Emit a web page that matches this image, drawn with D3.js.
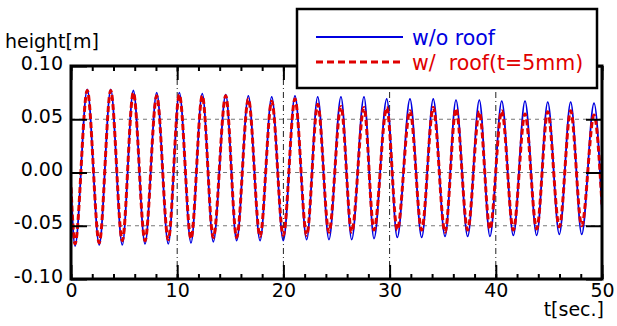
<!DOCTYPE html>
<html>
<head>
<meta charset="utf-8">
<script src="https://cdn.jsdelivr.net/npm/d3@7"></script>
<style>
  body { margin: 0; background: #fff; }
  svg { display: block; }
  text { font-family: "DejaVu Sans", Verdana, sans-serif; }
</style>
</head>
<body>
<svg id="chart" width="617" height="326"></svg>
<script>
// times of the troughs and crests [s]
const troughT = [0.38, 2.66, 4.83, 6.97, 9.16, 11.30, 13.40, 15.60, 17.80, 19.99, 22.19, 24.29,
  26.43, 28.53, 30.72, 33.02, 35.22, 37.35, 39.45, 41.65, 43.85, 45.98, 48.09];
const peakT = [1.53, 3.74, 5.87, 8.07, 10.20, 12.36, 14.57, 16.70, 18.90, 21.09, 23.23, 25.42,
  27.59, 29.73, 31.92, 34.11, 36.25, 38.45, 40.56, 42.75, 44.89, 47.05, 49.25];

// w/o roof [m]
const noRoofPeak = [0.078, 0.078, 0.077, 0.075, 0.075, 0.074, 0.073, 0.072, 0.071, 0.072, 0.071, 0.071,
  0.071, 0.069, 0.069, 0.069, 0.068, 0.068, 0.067, 0.067, 0.066, 0.066, 0.065];
const noRoofTrough = [-0.069, -0.068, -0.068, -0.067, -0.067, -0.066, -0.065, -0.064, -0.064, -0.064, -0.063, -0.063,
  -0.063, -0.062, -0.061, -0.061, -0.060, -0.060, -0.060, -0.059, -0.059, -0.058, -0.058];
const noRoofEnds = [-0.012, -0.037];

// w/ roof (t=5mm) [m]
const roofPeak = [0.077, 0.077, 0.075, 0.072, 0.073, 0.072, 0.072, 0.069, 0.067, 0.069, 0.064, 0.062,
  0.061, 0.061, 0.058, 0.061, 0.060, 0.057, 0.058, 0.055, 0.057, 0.058, 0.054];
const roofTrough = [-0.067, -0.066, -0.064, -0.064, -0.063, -0.062, -0.061, -0.061, -0.060, -0.059, -0.059, -0.056,
  -0.056, -0.054, -0.054, -0.054, -0.056, -0.054, -0.053, -0.054, -0.053, -0.051, -0.050];
const roofEnds = [-0.014, -0.030];

const xTicks = [0, 10, 20, 30, 40, 50];
const xMinor = d3.range(0, 51, 2);
const yTicks = [-0.10, -0.05, 0.00, 0.05, 0.10];
const yGrid = [-0.05, 0.00, 0.05];
const xGrid = [10, 20, 30, 40];
const legendNames = ["w/o roof", "w/  roof(t=5mm)"];

const blue = "#0000e0", red = "#e00000";

function buildSeries(peaks, troughs, ends) {
  const pts = [[0, ends[0]]];
  troughT.forEach((t, i) => {
    pts.push([t, troughs[i]]);
    pts.push([peakT[i], peaks[i]]);
  });
  pts.push([50, ends[1]]);
  return pts;
}

const svg = d3.select("#chart");
const pL = 71, pR = 602, pT = 66, pB = 279;

const x = d3.scaleLinear().domain([0, 50]).range([pL, pR]);
const y = d3.scaleLinear().domain([-0.1, 0.1]).range([pB, pT]);
const fmt = d3.formatLocale({decimal: ".", thousands: ",", grouping: [3], currency: ["", ""], minus: "-"}).format(".2f");

svg.append("clipPath").attr("id", "plot")
  .append("rect").attr("x", pL).attr("y", pT).attr("width", pR - pL).attr("height", pB - pT);

// grid
svg.append("g").selectAll("line").data(yGrid).join("line")
  .attr("x1", pL).attr("x2", pR)
  .attr("y1", d => y(d)).attr("y2", d => y(d))
  .attr("stroke", "#777").attr("stroke-width", 1).attr("stroke-dasharray", "4,4");
svg.append("g").selectAll("line").data(xGrid).join("line")
  .attr("x1", d => x(d)).attr("x2", d => x(d))
  .attr("y1", pT).attr("y2", pB)
  .attr("stroke", "#222").attr("stroke-width", 1).attr("stroke-dasharray", "6,3,1,3");

// curves
const line = d3.line().x(d => x(d[0])).y(d => y(d[1])).curve(d3.curveMonotoneX);
const plot = svg.append("g").attr("clip-path", "url(#plot)");
plot.append("path").datum(buildSeries(noRoofPeak, noRoofTrough, noRoofEnds))
  .attr("d", line).attr("fill", "none").attr("stroke", blue).attr("stroke-width", 1.8);
plot.append("path").datum(buildSeries(roofPeak, roofTrough, roofEnds))
  .attr("d", line).attr("fill", "none").attr("stroke", red).attr("stroke-width", 3)
  .attr("stroke-dasharray", "6,3");

// frame
svg.append("rect").attr("x", pL).attr("y", pT).attr("width", pR - pL).attr("height", pB - pT)
  .attr("fill", "none").attr("stroke", "#000").attr("stroke-width", 3);

// ticks (inward)
function clean(g) { g.select(".domain").remove(); g.selectAll("line").attr("stroke", "#000").attr("stroke-width", 2); }
svg.append("g").attr("transform", `translate(0,${pB})`)
  .call(d3.axisBottom(x).tickValues(xMinor).tickSize(-5).tickFormat("")).call(clean);
svg.append("g").attr("transform", `translate(0,${pT})`)
  .call(d3.axisTop(x).tickValues(xMinor).tickSize(-5).tickFormat("")).call(clean);
svg.append("g").attr("transform", `translate(0,${pT})`)
  .call(d3.axisTop(x).tickValues(xTicks).tickSize(-14).tickFormat("")).call(clean);
const xAxis = svg.append("g").attr("transform", `translate(0,${pB})`)
  .call(d3.axisBottom(x).tickValues(xTicks).tickSize(-14).tickPadding(0).tickFormat(d3.format("d"))).call(clean);
xAxis.selectAll("text").attr("y", 18).attr("dy", 0).attr("fill", "#000").style("font-size", "19px");

const yAxis = svg.append("g").attr("transform", `translate(${pL},0)`)
  .call(d3.axisLeft(y).tickValues(yTicks).tickSize(-16).tickPadding(8).tickFormat(fmt)).call(clean);
yAxis.selectAll("text").attr("dy", 3).attr("fill", "#000").style("font-size", "19px");
svg.append("g").attr("transform", `translate(${pR},0)`)
  .call(d3.axisRight(y).tickValues(yTicks).tickSize(-16).tickFormat("")).call(clean);

// axis titles
svg.append("text").attr("x", 5).attr("y", 48).style("font-size", "19px").text("height[m]");
svg.append("text").attr("x", 604).attr("y", 316).attr("text-anchor", "end").style("font-size", "19px").text("t[sec.]");

// legend
const lg = svg.append("g");
lg.append("rect").attr("x", 297).attr("y", 9).attr("width", 300).attr("height", 79)
  .attr("fill", "#fff").attr("stroke", "#000").attr("stroke-width", 2.5);
const rows = [
  {name: legendNames[0], color: blue, width: 1.8, dash: null, y: 37},
  {name: legendNames[1], color: red, width: 3, dash: "7,4", y: 62}
];
rows.forEach(r => {
  lg.append("line").attr("x1", 316).attr("x2", 403).attr("y1", r.y).attr("y2", r.y)
    .attr("stroke", r.color).attr("stroke-width", r.width).attr("stroke-dasharray", r.dash);
  lg.append("text").attr("x", 412).attr("y", r.y + 8).attr("fill", r.color)
    .style("font-size", "20.5px").style("white-space", "pre").attr("xml:space", "preserve").text(r.name);
});
</script>
</body>
</html>
